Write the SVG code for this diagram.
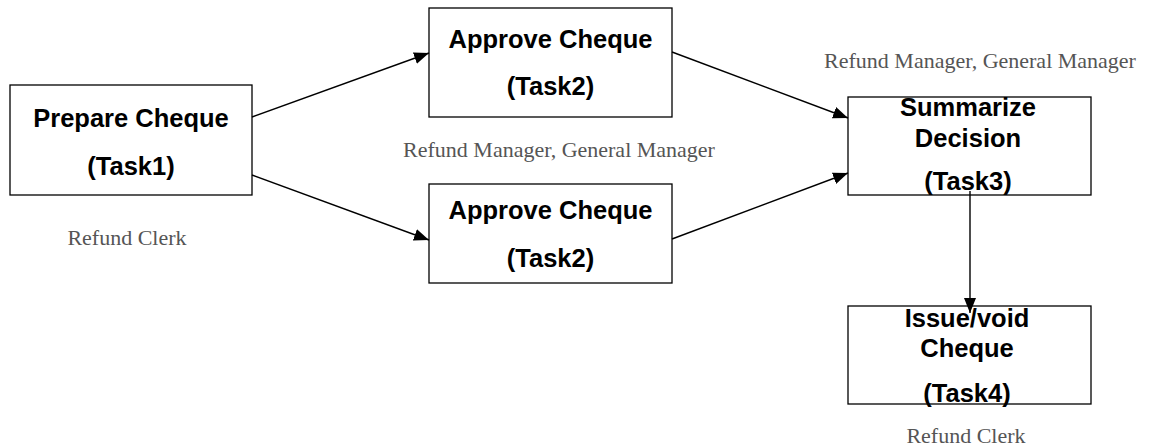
<svg xmlns="http://www.w3.org/2000/svg" width="1155" height="447" viewBox="0 0 1155 447">
  <style>
    .box { fill: #fff; stroke: #000; stroke-width: 1.3; }
    .title { font-family: "Liberation Sans", Arial, sans-serif; font-weight: bold; font-size: 25.5px; fill: #000; text-anchor: middle; }
    .role { font-family: "Liberation Serif", "Times New Roman", serif; font-size: 22px; fill: #555; text-anchor: middle; }
    .edge { fill: none; stroke: #000; stroke-width: 1.4; marker-end: url(#arrow); }
  </style>
  <defs>
    <marker id="arrow" viewBox="0 0 15 12" refX="15" refY="6" markerWidth="15" markerHeight="12" markerUnits="userSpaceOnUse" orient="auto">
      <path d="M0,0 L15,6 L0,12 Z" fill="#000"/>
    </marker>
  </defs>

  <g id="task1">
    <rect class="box" x="10" y="85" width="242" height="110"/>
    <text class="title" x="131" y="127">Prepare Cheque</text>
    <text class="title" x="131" y="175">(Task1)</text>
    <text class="role" x="127" y="245">Refund Clerk</text>
  </g>

  <g id="task2a">
    <rect class="box" x="429" y="8" width="243" height="109"/>
    <text class="title" x="550.5" y="48">Approve Cheque</text>
    <text class="title" x="550.5" y="95">(Task2)</text>
    <text class="role" x="559" y="157">Refund Manager, General Manager</text>
  </g>

  <g id="task2b">
    <rect class="box" x="429" y="184" width="243" height="99"/>
    <text class="title" x="550.5" y="219">Approve Cheque</text>
    <text class="title" x="550.5" y="267">(Task2)</text>
  </g>

  <g id="task3">
    <rect class="box" x="848" y="97" width="243" height="98"/>
    <text class="title" x="968" y="116">Summarize</text>
    <text class="title" x="968" y="147">Decision</text>
    <text class="title" x="968" y="190">(Task3)</text>
    <text class="role" x="980" y="68">Refund Manager, General Manager</text>
  </g>

  <g id="task4">
    <rect class="box" x="848" y="306" width="243" height="98"/>
    <text class="title" x="967" y="327">Issue/void</text>
    <text class="title" x="967" y="357">Cheque</text>
    <text class="title" x="967" y="402">(Task4)</text>
    <text class="role" x="966" y="443">Refund Clerk</text>
  </g>

  <g id="connectors">
    <line class="edge" x1="252" y1="117" x2="429" y2="53"/>
    <line class="edge" x1="252" y1="175" x2="429" y2="240"/>
    <line class="edge" x1="672" y1="52" x2="848" y2="118"/>
    <line class="edge" x1="672" y1="239" x2="848" y2="173"/>
    <line class="edge" x1="970" y1="191" x2="970" y2="313"/>
  </g>
</svg>
